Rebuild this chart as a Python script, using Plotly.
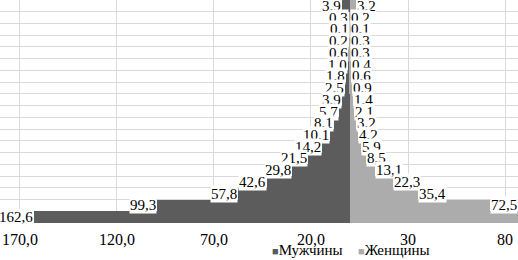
import plotly.graph_objects as go

# rows from top to bottom
men = [3.9, 0.3, 0.1, 0.2, 0.6, 1.0, 1.8, 2.5, 3.9, 5.7, 8.1, 10.1, 14.2, 21.5, 29.8, 42.6, 57.8, 99.3, 162.6]
women = [3.2, 0.2, 0.1, 0.3, 0.3, 0.4, 0.6, 0.9, 1.4, 2.1, 3.2, 4.2, 5.9, 8.5, 13.1, 22.3, 35.4, 72.5, 100.0]
women_labels = [3.2, 0.2, 0.1, 0.3, 0.3, 0.4, 0.6, 0.9, 1.4, 2.1, 3.2, 4.2, 5.9, 8.5, 13.1, 22.3, 35.4, 72.5, None]
tick_vals = [-170, -120, -70, -20, 30, 80]
tick_text = ["170,0", "120,0", "70,0", "20,0", "30", "80"]
series_names = ["Мужчины", "Женщины"]
rows = list(range(len(men)))

FONT = "Liberation Serif"
MEN_C = "#5c5c5c"
WOMEN_C = "#acacac"

def fmt(v):
    return f"{v:.1f}".replace(".", ",")

fig = go.Figure()
fig.add_trace(go.Bar(y=rows, x=[-v for v in men], orientation="h", name=series_names[0],
                     marker=dict(color=MEN_C, line=dict(width=0)), showlegend=False))
fig.add_trace(go.Bar(y=rows, x=women, orientation="h", name=series_names[1],
                     marker=dict(color=WOMEN_C, line=dict(width=0)), showlegend=False))

anns = []
for r, v in zip(rows, men):
    anns.append(dict(x=-v, y=r, text=fmt(v), xanchor="right", yanchor="middle", showarrow=False,
                     bgcolor="white", borderpad=0, font=dict(family=FONT, size=15, color="black")))
for r, v in zip(rows, women_labels):
    if v is None:
        continue
    anns.append(dict(x=v, y=r, text=fmt(v), xanchor="left", yanchor="middle", showarrow=False,
                     bgcolor="white", borderpad=0, font=dict(family=FONT, size=15, color="black")))

# legend drawn as text
anns.append(dict(xref="paper", yref="paper", x=270 / 518, y=-27 / 223, xanchor="left", yanchor="middle",
                 showarrow=False,
                 text=f"<span style='color:{MEN_C};font-size:11px'>■</span>{series_names[0]}",
                 font=dict(family=FONT, size=15, color="black")))
anns.append(dict(xref="paper", yref="paper", x=356 / 518, y=-27 / 223, xanchor="left", yanchor="middle",
                 showarrow=False,
                 text=f"<span style='color:{WOMEN_C};font-size:11px'>■</span>{series_names[1]}",
                 font=dict(family=FONT, size=15, color="black")))

fig.update_layout(
    width=518, height=260,
    margin=dict(l=0, r=0, t=0, b=37, autoexpand=False),
    paper_bgcolor="white", plot_bgcolor="white",
    barmode="relative", bargap=0,
    annotations=anns,
    showlegend=False,
    font=dict(family=FONT, size=14, color="black"),
    xaxis=dict(range=[-180.3, 86.7], tickvals=tick_vals, ticktext=tick_text,
               showgrid=True, gridcolor="#d9d9d9", gridwidth=1,
               zeroline=True, zerolinecolor="#8a8a8a", zerolinewidth=2,
               ticks="", ticklabelstandoff=5, automargin=False,
               tickfont=dict(family=FONT, size=16), fixedrange=True),
    yaxis=dict(range=[18.5, -0.5], tickmode="linear", tick0=0.5, dtick=1, automargin=False,
               showticklabels=False, showgrid=True, gridcolor="#d9d9d9", gridwidth=1,
               zeroline=False, ticks=""),
)

fig.write_html("out.html", config={"displayModeBar": False},
               post_script="document.body.style.margin='0';document.body.style.overflow='hidden';")
